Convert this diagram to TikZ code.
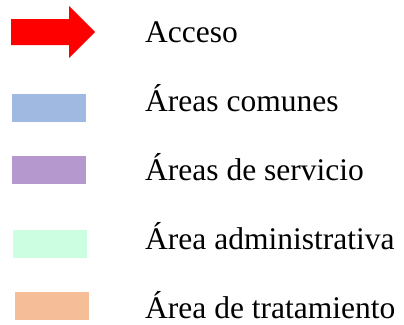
\documentclass[tikz,border=0pt]{standalone}
\usepackage{fontspec}
\setmainfont{Liberation Serif}
\definecolor{swblue}{RGB}{160,185,224}
\definecolor{swpurple}{RGB}{180,152,206}
\definecolor{swmint}{RGB}{204,255,226}
\definecolor{swpeach}{RGB}{245,190,152}
\begin{document}
\begin{tikzpicture}[x=1pt,y=-1pt,
  swatch/.style={draw=none,minimum width=74pt,minimum height=28pt,inner sep=0pt},
  label/.style={anchor=base west,inner sep=0pt,font=\fontsize{31.5}{36}\selectfont}]
\useasboundingbox (0,0) rectangle (404,324);
\fill[red] (11,19) -- (69,19) -- (69,6) -- (95,32) -- (69,58) -- (69,45) -- (11,45) -- cycle;
\node[swatch,fill=swblue] (blue) at (49,108) {};
\node[swatch,fill=swpurple] (purple) at (49,170) {};
\node[swatch,fill=swmint] (mint) at (50,244) {};
\node[swatch,fill=swpeach] (peach) at (52,306) {};
\node[label] (t1) at (145,42) {Acceso};
\node[label] (t2) at (145,111) {Áreas comunes};
\node[label] (t3) at (145,180) {Áreas de servicio};
\node[label] (t4) at (145,249) {Área administrativa};
\node[label] (t5) at (145,318) {Área de tratamiento};
\end{tikzpicture}
\end{document}
